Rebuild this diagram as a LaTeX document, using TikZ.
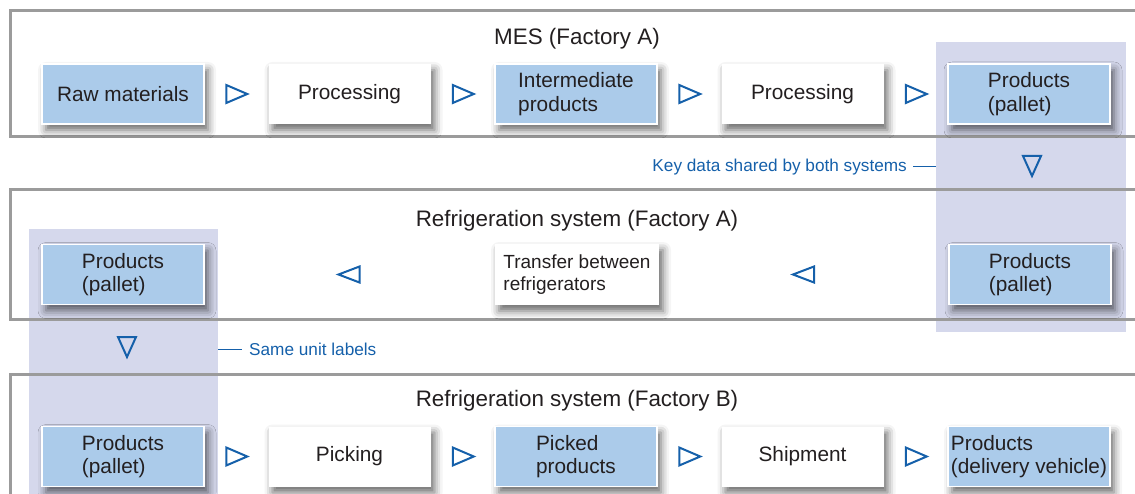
\documentclass[tikz,border=0pt]{standalone}
\usepackage{fontspec}
\setmainfont{Liberation Sans}
\usetikzlibrary{positioning,calc,shadows.blur}

\definecolor{boxblue}{HTML}{ABCBEA}
\definecolor{colband}{HTML}{D5D8EC}
\definecolor{framegray}{HTML}{9B9B9B}
\definecolor{flowblue}{HTML}{1560AA}
\definecolor{inktext}{HTML}{231F20}

\tikzset{
  stage/.style={minimum width=162pt, minimum height=60pt, inner sep=0pt, outer sep=0pt,
    align=left, text=inktext, font=\fontsize{20.8}{23.5}\selectfont,
    blur shadow={shadow xshift=4pt, shadow yshift=-6pt, shadow blur radius=8pt, shadow opacity=60}},
  goods/.style={stage, fill=boxblue, draw=white, line width=1.5pt},
  work/.style={stage, fill=white},
  frame/.style={draw=framegray, line width=3pt},
  band/.style={fill=colband},
  flow/.style={draw=flowblue, line width=2pt, line join=miter},
  leader/.style={draw=flowblue, line width=1pt},
  note/.style={text=flowblue, font=\fontsize{17.2}{20}\selectfont, inner sep=0pt},
  title/.style={text=inktext, font=\fontsize{22.4}{26}\selectfont},
  flowright/.pic={\draw[flow] (-10,-9) -- (11,0) -- (-10,9) -- cycle;},
  flowleft/.pic={\draw[flow] (10,-8) -- (-11,0) -- (10,8) -- cycle;},
  flowdown/.pic={\draw[flow] (-9,-10) -- (9,-10) -- (0,10) -- cycle;},
}

\begin{document}
\begin{tikzpicture}[x=1pt,y=-1pt]
\useasboundingbox (0,0) rectangle (1135,494);
\clip (0,0) rectangle (1135,494);

% shared pallet columns
\fill[band] (936,42) rectangle (1126,332);
\fill[band] (29,229) rectangle (218,500);

% system frames
\draw[frame] (1150,10.5) -- (10,10.5) -- (10,137) -- (1150,137);
\draw[frame] (1150,190) -- (10,190) -- (10,319.5) -- (1150,319.5);
\draw[frame] (1150,374) -- (10,374) -- (10,510);

\node[title] (mes)  at (577,39)  {MES (Factory A)};
\node[title] (refA) at (577,220.5) {Refrigeration system (Factory A)};
\node[title] (refB) at (577,400.5) {Refrigeration system (Factory B)};

% MES row
\node[goods] (raw) at (123,94) {Raw materials};
\node[work, right=64.5pt of raw] (procA) {Processing};
\node[goods, right=64.5pt of procA] (inter) {Intermediate\\products};
\node[work, right=64.5pt of inter] (procB) {Processing};
\node[goods, right=64.5pt of procB] (palA) {Products\\(pallet)};
\pic at ($(raw.east)!.5!(procA.west)$) {flowright};
\pic at ($(procA.east)!.5!(inter.west)$) {flowright};
\pic at ($(inter.east)!.5!(procB.west)$) {flowright};
\pic at ($(procB.east)!.5!(palA.west)$) {flowright};

% refrigeration A row
\node[goods] (palC) at (123,274.5) {Products\\(pallet)};
\node[work, minimum width=164pt, minimum height=61pt, font=\fontsize{19}{22.5}\selectfont]
  (transfer) at (577,274.5) {Transfer between\\refrigerators};
\node[goods] (palB) at (1030,274.5) {Products\\(pallet)};
\pic at ($(palC.east)!.5!(transfer.west)$) {flowleft};
\pic at ($(transfer.east)!.5!(palB.west)$) {flowleft};

% refrigeration B row
\node[goods] (palD) at (123,456.5) {Products\\(pallet)};
\node[work, right=64.5pt of palD] (pick) {Picking};
\node[goods, right=64.5pt of pick] (picked) {Picked\\products};
\node[work, right=64.5pt of picked] (ship) {Shipment};
\node[goods, right=64.5pt of ship] (vehicle) {Products\\(delivery vehicle)};
\pic at ($(palD.east)!.5!(pick.west)$) {flowright};
\pic at ($(pick.east)!.5!(picked.west)$) {flowright};
\pic at ($(picked.east)!.5!(ship.west)$) {flowright};
\pic at ($(ship.east)!.5!(vehicle.west)$) {flowright};

% hand-over between systems
\pic at (1032,166) {flowdown};
\pic at (127,347) {flowdown};

\node[note, anchor=east] (keydata) at (907,167) {Key data shared by both systems};
\coordinate (bandR) at (936,167);
\draw[leader] ([xshift=6pt]keydata.east) -- (bandR);

\node[note, anchor=west] (sameunit) at (249,349) {Same unit labels};
\coordinate (bandL) at (218,349);
\draw[leader] (bandL) -- ([xshift=-7pt]sameunit.west);
\end{tikzpicture}
\end{document}
